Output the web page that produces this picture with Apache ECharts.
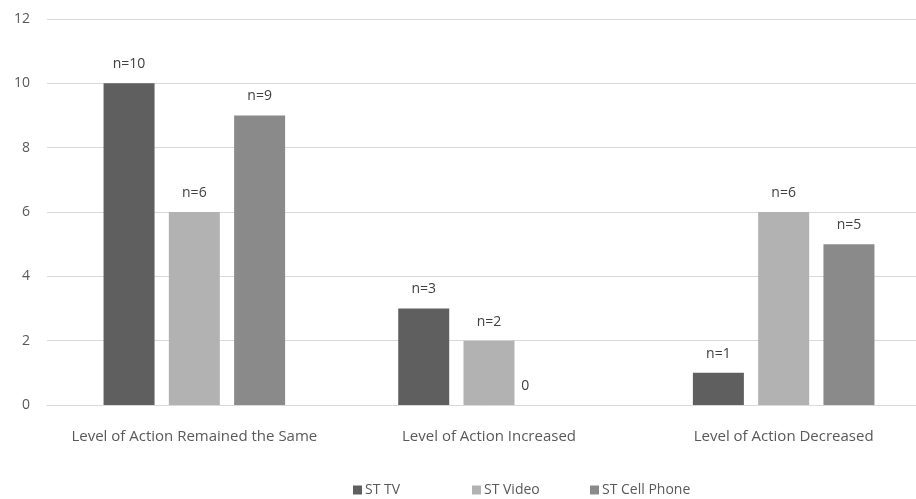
<!DOCTYPE html>
<html>
<head>
<meta charset="UTF-8">
<script src="https://cdn.jsdelivr.net/npm/echarts@6/dist/echarts.min.js"></script>
<style>
  html, body { margin: 0; background: #fff; }
  #c { width: 916px; height: 499px; }
</style>
</head>
<body>
<div id="c"></div>
<script>
// data
const categories = ["Level of Action Remained the Same", "Level of Action Increased", "Level of Action Decreased"];
const seriesNames = ["ST TV", "ST Video", "ST Cell Phone"];
const tvValues = [10, 3, 1];
const videoValues = [6, 2, 6];
const phoneValues = [9, 0, 5];
const colors = ["#5f5f5f", "#b2b2b2", "#8a8a8a"];

const font = "'Open Sans', 'Noto Sans', sans-serif";

function mkSeries(name, data, color) {
    return {
        name: name,
        type: "bar",
        // zero bar: excel puts its label a bit to the left
        data: data.map(v => (v === 0 ? { value: v, label: { offset: [-29, 0] } } : v)),
        barWidth: 51,
        barGap: "28%",
        itemStyle: { color: color },
        label: {
            show: true,
            position: "top",
            distance: 12,
            color: "#404040",
            fontSize: 14,
            fontFamily: font,
            formatter: p => (p.value === 0 ? "0" : "n=" + p.value)
        }
    };
}

// excel spaces legend entries in fixed slots, so one legend per entry
const legendLeft = [348, 467, 585];
const legends = seriesNames.map((n, i) => ({
    data: [n],
    left: legendLeft[i],
    top: 478,
    icon: "rect",
    itemWidth: 9,
    itemHeight: 9,
    textStyle: { color: "#595959", fontSize: 14, fontFamily: font, padding: [0, 0, 0, -2] }
}));

const chart = echarts.init(document.getElementById("c"), null, { renderer: "canvas" });
chart.setOption({
    animation: false,
    backgroundColor: "#fff",
    color: colors,
    // plot area runs past the right edge, like the excel original
    grid: { left: 47, width: 884, top: 19, bottom: 94, containLabel: false, outerBoundsMode: "none" },
    xAxis: {
        type: "category",
        data: categories,
        axisLine: { show: true, lineStyle: { color: "#d9d9d9", width: 1 } },
        axisTick: { show: false },
        axisLabel: { interval: 0, color: "#595959", fontSize: 15, fontFamily: font, margin: 24 }
    },
    yAxis: {
        type: "value",
        min: 0,
        max: 12,
        interval: 2,
        axisLine: { show: false },
        axisTick: { show: false },
        splitLine: { lineStyle: { color: "#d9d9d9", width: 1 } },
        axisLabel: { color: "#595959", fontSize: 14, fontFamily: font, margin: 17 }
    },
    legend: legends,
    series: [
        mkSeries(seriesNames[0], tvValues, colors[0]),
        mkSeries(seriesNames[1], videoValues, colors[1]),
        mkSeries(seriesNames[2], phoneValues, colors[2])
    ]
});
</script>
</body>
</html>
